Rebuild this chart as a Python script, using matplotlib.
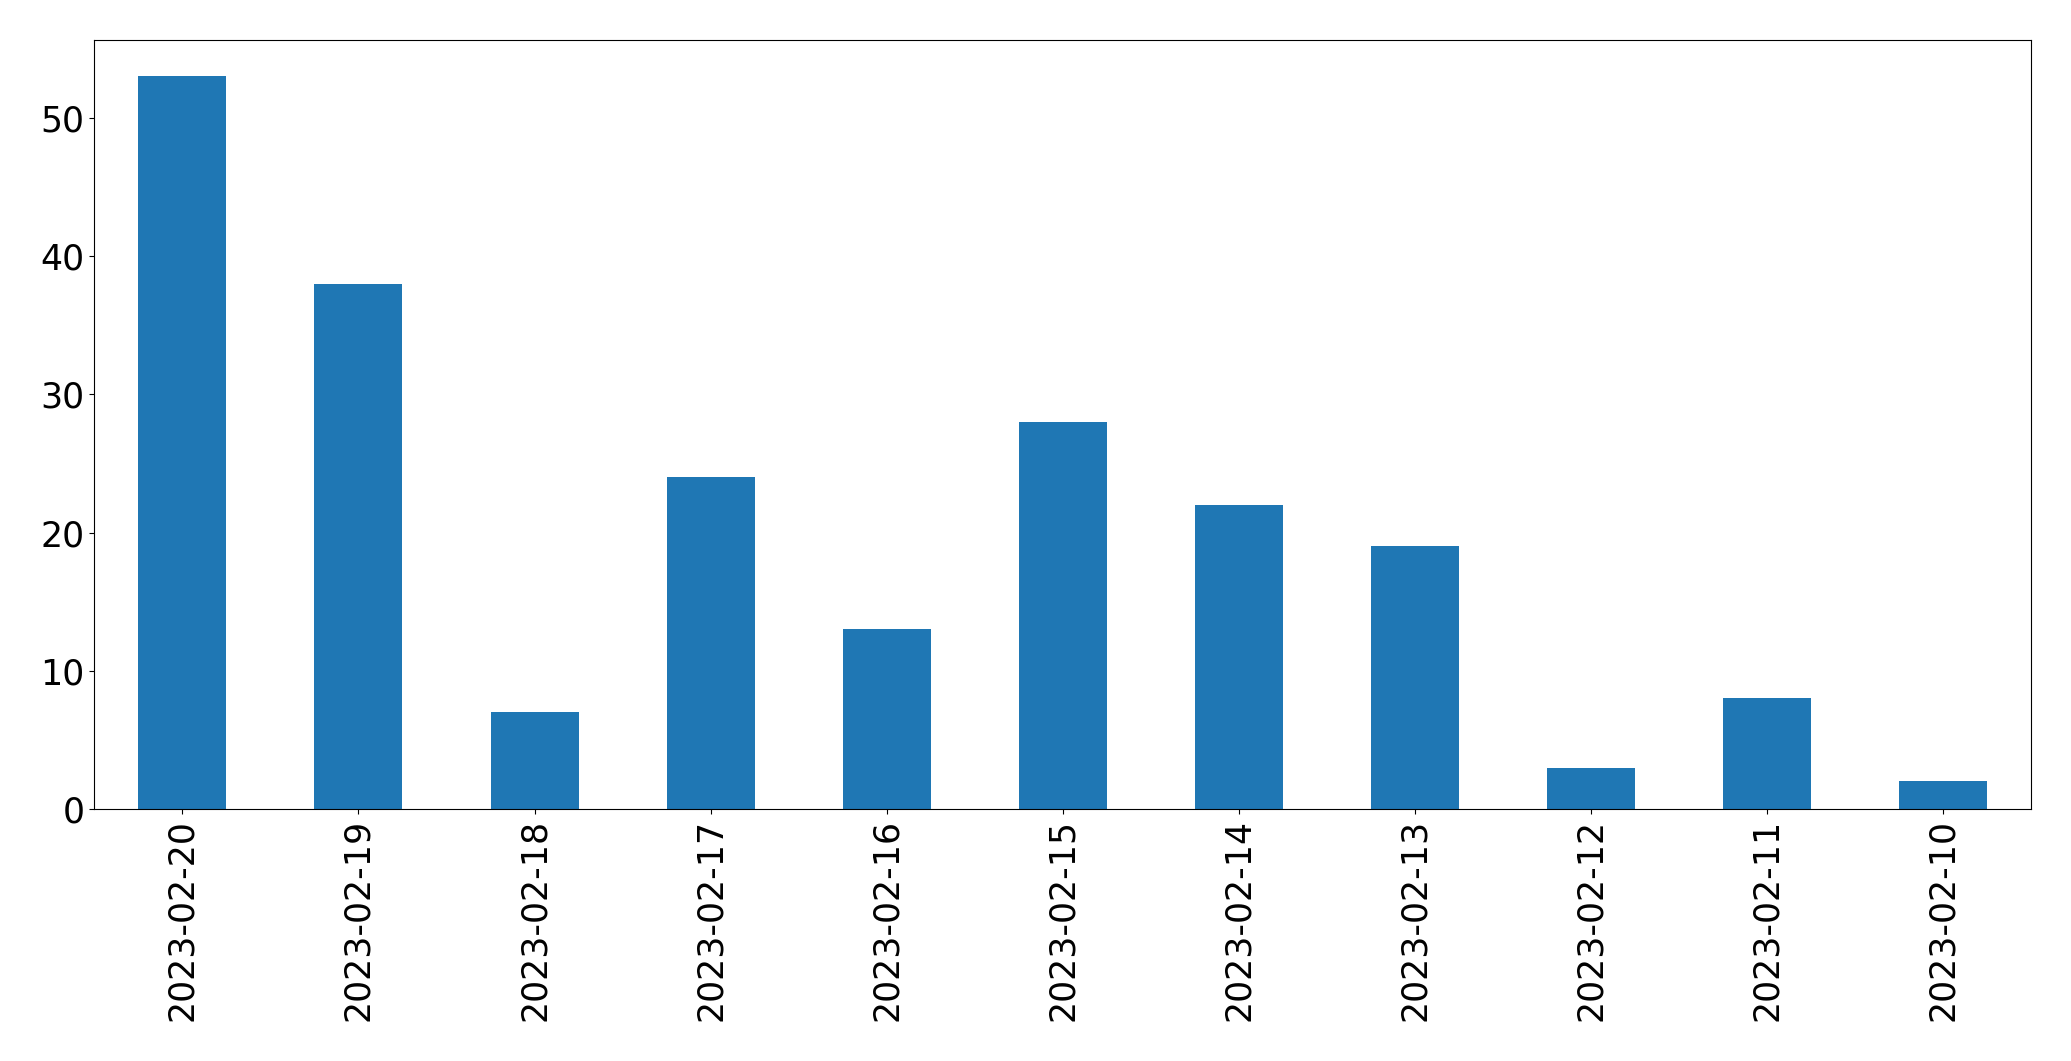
import matplotlib
matplotlib.use('Agg')
import matplotlib.pyplot as plt
import pandas as pd

dates = ["2023-02-20", "2023-02-19", "2023-02-18", "2023-02-17", "2023-02-16",
         "2023-02-15", "2023-02-14", "2023-02-13", "2023-02-12", "2023-02-11",
         "2023-02-10"]
counts = [53, 38, 7, 24, 13, 28, 22, 19, 3, 8, 2]

s = pd.Series(counts, index=dates)

fig = plt.figure(figsize=(20.71, 10.61), dpi=100)
ax = fig.add_axes([0.0456, 0.2375, 0.935, 0.725])
s.plot(kind="bar", ax=ax, color="#1f77b4")
ax.tick_params(labelsize=25)

plt.savefig("out.png", dpi=100)
plt.close()
